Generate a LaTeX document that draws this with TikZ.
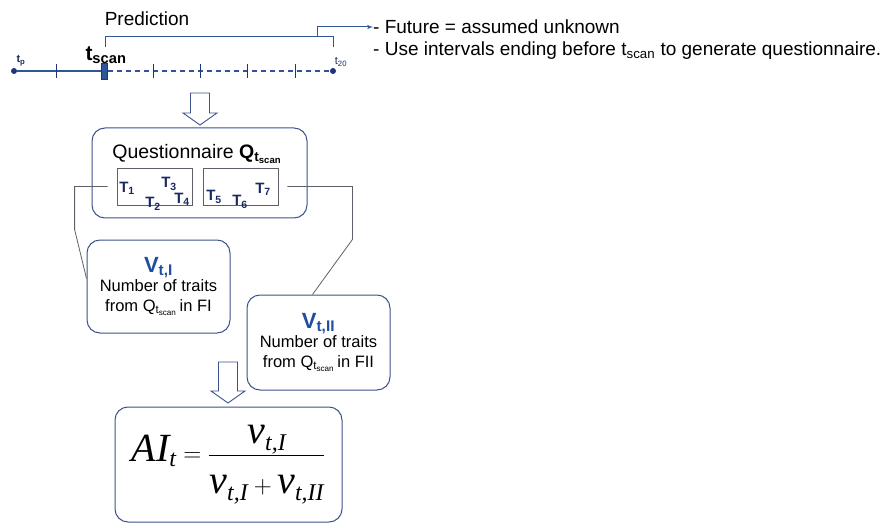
\documentclass[tikz,border=0pt]{standalone}
\usepackage{fontspec}
\setmainfont{Liberation Sans}
\newfontfamily\formfont{Liberation Serif}
\usetikzlibrary{positioning,arrows}
\definecolor{lineblue}{RGB}{47,85,151}
\definecolor{dotblue}{RGB}{32,52,122}
\definecolor{boxblue}{RGB}{62,82,140}
\definecolor{vblue}{RGB}{31,78,160}
\definecolor{tnavy}{RGB}{28,40,100}
\definecolor{linkgray}{RGB}{95,95,105}
\tikzstyle{timeline}=[draw=lineblue, line width=1.2pt]
\tikzstyle{tick}=[draw=dotblue, line width=0.8pt]
\tikzstyle{dot}=[circle, fill=dotblue, minimum size=6pt, inner sep=0pt]
\tikzstyle{scanmark}=[rectangle, fill=lineblue, draw=dotblue, minimum width=6pt, minimum height=16pt, inner sep=0pt]
\tikzstyle{bracket}=[draw=lineblue, line width=1pt, >=latex']
\tikzstyle{rbox}=[draw=boxblue, line width=1pt, rounded corners=13pt, inner sep=0pt]
\tikzstyle{tbox}=[draw=linkgray, line width=0.8pt, inner sep=0pt]
\tikzstyle{trait}=[text=tnavy, font=\fontsize{15}{17}\selectfont\bfseries, inner sep=0pt]
\tikzstyle{link}=[draw=linkgray, line width=0.8pt]
\tikzstyle{blockarrow}=[draw=boxblue, fill=white, line width=0.9pt, line join=miter]
\newcommand{\trait}[1]{T\textsubscript{#1}}
\newcommand{\scanQ}{Q\textsubscript{t\textsubscript{scan}}}
\newcommand{\fv}[1]{\mbox{\formfont\itshape v}_{\mbox{\fontsize{24}{26}\selectfont\formfont\itshape #1}}}
\newcommand{\hollowdown}[3]{% x, top, tip
  \draw[blockarrow] (#1-9.5,#2) -- (#1+9.5,#2) -- (#1+9.5,#3-12) -- (#1+17,#3-12)
    -- (#1,#3) -- (#1-17,#3-12) -- (#1-9.5,#3-12) -- cycle;}

\begin{document}
\begin{tikzpicture}[x=1pt, y=-1pt]
    \useasboundingbox (0,0) rectangle (895,532);

    % time line
    \node[dot] (tp) at (14,71) {};
    \node[dot] (t20) at (333,71) {};
    \node[scanmark] (tscan) at (104.5,71) {};
    \draw[timeline] (tp) -- (tscan);
    \draw[timeline, dash pattern=on 5pt off 4pt] (tscan) -- (t20);
    \foreach \x in {56,153,200,247,295}
        \draw[tick] (\x,64) -- (\x,78);
    \node[font=\fontsize{11}{12}\selectfont\bfseries, text=tnavy] (tplabel) at (21,61) {t\textsubscript{p}};
    \node[font=\fontsize{21}{22}\selectfont\bfseries] (tscanlabel) at (106,55) {t\textsubscript{scan}};
    \node[font=\fontsize{11}{12}\selectfont, text=tnavy] (t20label) at (341,62) {t\textsubscript{20}};

    % prediction bracket
    \node[font=\fontsize{19}{21}\selectfont] (pred) at (147,19) {Prediction};
    \coordinate (bl) at (105,47);
    \coordinate (br) at (333,47);
    \draw[bracket] (bl) -- (105,37) -- (333,37) -- (br);
    \node[anchor=west, font=\fontsize{19}{21}\selectfont, inner sep=0pt] (future) at (373,27) {- Future = assumed unknown};
    \node[anchor=west, font=\fontsize{19}{21}\selectfont, inner sep=0pt] (usenote) at (373,51) {- Use intervals ending before t\textsubscript{scan} to generate questionnaire.};
    \draw[bracket, ->] (317,37) |- (future.west);

    \hollowdown{200}{93}{125}

    % questionnaire
    \node[rbox, minimum width=215pt, minimum height=90pt] (quest) at (199.5,173) {};
    \node[font=\fontsize{19.5}{21}\selectfont] (qtitle) at (197,154) {Questionnaire \textbf{\scanQ}};
    \node[tbox, minimum width=75pt, minimum height=37pt] (box1) at (154.5,186.5) {};
    \node[tbox, minimum width=75pt, minimum height=37pt] (box2) at (240.5,186.5) {};
    \node[trait] (t1) at (127,188) {\trait{1}};
    \node[trait] (t2) at (153,204) {\trait{2}};
    \node[trait] (t3) at (169,184) {\trait{3}};
    \node[trait] (t4) at (182,199) {\trait{4}};
    \node[trait] (t5) at (214,197) {\trait{5}};
    \node[trait] (t6) at (240,202) {\trait{6}};
    \node[trait] (t7) at (263,189) {\trait{7}};

    % counts
    \node[rbox, minimum width=143pt, minimum height=93pt, align=center, font=\fontsize{16.5}{19.5}\selectfont] (vI) at (158.5,286.5)
        {{\color{vblue}\fontsize{22}{22}\selectfont\bfseries V\textsubscript{t,I}}\\Number of traits\\from \scanQ\,in FI};
    \node[rbox, minimum width=143pt, minimum height=95pt, align=center, font=\fontsize{16.5}{19.5}\selectfont] (vII) at (318.5,342.5)
        {{\color{vblue}\fontsize{22}{22}\selectfont\bfseries V\textsubscript{t,II}}\\Number of traits\\from \scanQ\,in FII};
    \draw[link] ([xshift=-9pt]box1.west) -- ++(-33,0) -- ++(0,43) -- ([yshift=8pt]vI.west);
    \draw[link] ([xshift=9pt]box2.east) -- ++(65,0) -- ++(0,53) -- ([xshift=-6pt]vII.north);

    \hollowdown{228}{362}{403}

    % index
    \node[rbox, minimum width=227pt, minimum height=115pt] (ai) at (228.5,464.5) {};
    \node[font=\fontsize{40}{44}\selectfont] (aiform) at (ai)
        {$\mbox{\formfont\itshape AI}_{\mbox{\fontsize{24}{26}\selectfont\formfont\itshape t}}
          = \displaystyle\frac{\fv{t,I}\rule[-10pt]{0pt}{10pt}}{\rule{0pt}{36pt}\fv{t,I}+\fv{t,II}}$};
\end{tikzpicture}
\end{document}
